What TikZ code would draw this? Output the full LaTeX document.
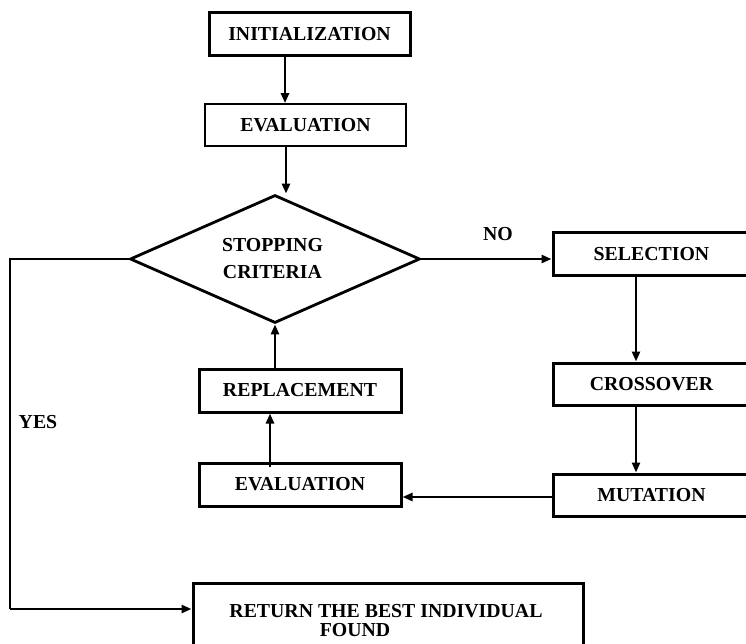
\documentclass[tikz,border=0pt]{standalone}
\usepackage{fontspec}
\setmainfont{Liberation Serif}
\usetikzlibrary{shapes.geometric,arrows.meta,calc}
\begin{document}
\begin{tikzpicture}[x=1pt,y=-1pt,
  every node/.style={font=\fontsize{19.8}{24}\selectfont\bfseries},
  box/.style={draw,line width=3pt,inner sep=0pt,anchor=center},
  thinbox/.style={draw,line width=1.7pt,inner sep=0pt,anchor=center},
  lbl/.style={inner sep=0pt,anchor=center},
  arr/.style={line width=2.8pt,-{Triangle[length=10pt,width=8pt]}},
  conn/.style={line width=2.8pt}]
\useasboundingbox (0,0) rectangle (746,644);
\clip (0,0) rectangle (746,644);
% boxes
\node[box,minimum width=201pt,minimum height=43pt] (init) at (309.5,34.5) {INITIALIZATION};
\node[thinbox,minimum width=201pt,minimum height=42pt] (evalA) at (305.5,125) {EVALUATION};
\node[diamond,draw,line width=2.8pt,aspect=2.25,inner sep=0pt,minimum width=290pt,minimum height=128pt,align=center] (diam) at (275,259) {};
\node[lbl,align=center,font=\fontsize{19.8}{27}\selectfont\bfseries] (diamtxt) at (272.5,258.5) {STOPPING\\CRITERIA};
\node[box,minimum width=197pt,minimum height=42pt] (sel) at (651.5,254) {SELECTION};
\node[box,minimum width=197pt,minimum height=42pt] (cross) at (651.5,384) {CROSSOVER};
\node[box,minimum width=197pt,minimum height=42pt] (mut) at (651.5,495) {MUTATION};
\node[box,minimum width=202pt,minimum height=43pt] (repl) at (300,390.5) {REPLACEMENT};
\node[box,minimum width=202pt,minimum height=43pt] (evalB) at (300,484.5) {EVALUATION};
\node[box,minimum width=390pt,minimum height=80pt] (ret) at (388,623) {};
\node[lbl] (rettxt1) at (386,611) {RETURN THE BEST INDIVIDUAL};
\node[lbl] (rettxt2) at (355,630) {FOUND};
% labels
\node[lbl] (no) at (498,234) {NO};
\node[lbl] (yes) at (38,422) {YES};
% connectors
\draw[arr] ([xshift=-24.5pt]init.south) -- ([xshift=-20.5pt]evalA.north);
\draw[arr] ([xshift=-19.5pt]evalA.south) -- ([xshift=-19.5pt]evalA.south |- diam.north);
\draw[arr] (diam.east) -- (diam.east -| sel.west);
\draw[arr] ([xshift=-15.5pt]sel.south) -- ([xshift=-15.5pt]cross.north);
\draw[arr] ([xshift=-15.5pt]cross.south) -- ([xshift=-15.5pt]mut.north);
\draw[arr] ([yshift=-2pt]mut.west) -- ([yshift=-2pt]mut.west -| evalB.east);
\draw[arr] ([xshift=-30pt,yshift=-5pt]evalB.north) -- ([xshift=-30pt]repl.south);
\draw[arr] ([xshift=-25pt]repl.north) -- (diam.south);
\coordinate (c1) at (10,259);
\coordinate (c2) at (10,609);
\draw[conn] (diam.west) -- (c1) -- (c2);
\draw[arr] (c2) -- (c2 -| ret.west);
\end{tikzpicture}
\end{document}
